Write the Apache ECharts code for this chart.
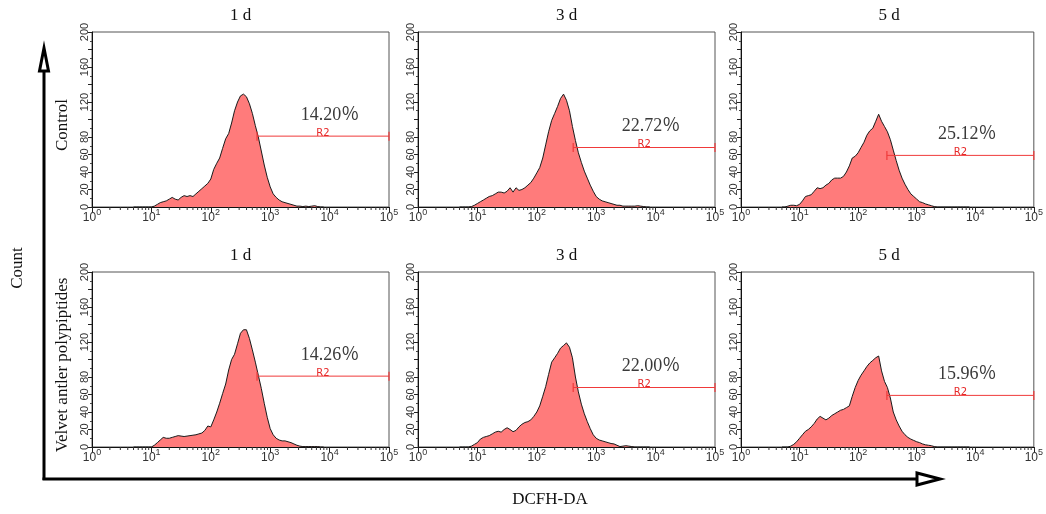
<!DOCTYPE html>
<html>
<head>
<meta charset="utf-8">
<title>DCFH-DA flow cytometry</title>
<script src="https://cdn.jsdelivr.net/npm/echarts@6/dist/echarts.min.js"></script>
<style>
  html, body { margin: 0; padding: 0; background: #fff; }
  #chart { width: 1046px; height: 514px; }
</style>
</head>
<body>
<div id="chart"></div>
<script>
// fluorescence channel (DCFH-DA), log-spaced
var channel = [
  5.01, 5.62, 6.31, 7.08, 7.94, 8.91,
  10, 11.2, 12.6, 14.1, 15.8, 17.8, 20, 22.4, 25.1, 28.2, 31.6, 35.5, 39.8, 44.7, 50.1, 56.2, 63.1, 70.8, 79.4, 89.1,
  100, 112, 126, 141, 158, 178, 200, 224, 251, 282, 316, 355, 398, 447, 501, 562, 631, 708, 794, 891,
  1000, 1122, 1259, 1413, 1585, 1778, 1995, 2239, 2512, 2818, 3162, 3548, 3981, 4467, 5012, 5623, 6310, 7079, 7943
];

// counts per panel
var control1d = [
  0, 0, 0, 0, 0, 0,
  0, 1, 3, 5, 6, 7, 9, 11, 9, 8, 11, 13, 12, 13, 12, 15, 18, 21, 24, 27,
  32, 43, 50, 56, 67, 78, 84, 96, 110, 120, 127, 129, 126, 118, 107, 93, 80, 64, 48, 34,
  23, 15, 11, 8, 6, 5, 4, 3, 2, 1, 1, 0.5, 1, 0.5, 1, 1.5, 0.5, 0, 0
];
var control3d = [
  0, 0, 0, 0, 0.5, 2,
  4, 6, 8, 10, 12, 13, 15, 17, 17, 16, 18, 22, 17, 22, 19, 20, 22, 25, 28, 33,
  39, 45, 56, 71, 86, 99, 107, 115, 124, 129, 122, 110, 92, 76, 62, 51, 41, 33, 25, 18,
  12, 9, 7, 6, 5, 4, 3, 2, 2, 1, 1, 1, 1, 1, 1.5, 1, 0.5, 0, 0
];
var control5d = [
  0, 0, 1, 2, 2, 1.5,
  3, 7, 12, 13, 14, 18, 22, 21, 22, 25, 27, 31, 33, 33, 33, 35, 40, 47, 56, 58,
  62, 68, 74, 82, 87, 90, 98, 106, 98, 92, 86, 77, 65, 53, 42, 33, 26, 20, 15, 12,
  9, 6, 5, 3.5, 2.5, 1.5, 0.5, 0, 0, 0, 0, 0, 0, 0, 0, 0, 0, 0, 0
];
var velvet1d = [
  0, 0, 0, 0, 0, 0,
  0, 2, 5, 8, 11, 10, 10, 11, 12, 13, 12.5, 12, 12.5, 13, 13.5, 14, 15, 16, 19, 24,
  23, 31, 40, 50, 61, 72, 88, 100, 106, 118, 130, 134, 134, 124, 111, 97, 82, 67, 50, 34,
  21, 14, 10, 8, 7, 7, 6, 5, 3.5, 2, 1, 0.5, 0.5, 0.5, 0.5, 0.5, 0.5, 0, 0
];
var velvet3d = [
  0, 0, 0, 0, 1, 3,
  5, 9, 11, 12, 13, 15, 17, 18, 17, 20, 22, 20, 17.5, 19, 23, 26, 28, 29, 31, 35,
  40, 47, 58, 69, 83, 97, 102, 107, 113, 116, 119, 114, 102, 80, 63, 49, 38, 29, 21, 14,
  10, 8, 7, 6, 5, 4, 3.5, 2, 0.5, 1, 1.5, 1, 0.5, 0, 0, 0, 0, 0, 0
];
var velvet5d = [
  0, 0, 0, 1, 3, 6,
  10, 14, 18, 20, 23, 27, 32, 35, 33, 31, 33, 36, 38, 40, 42, 43, 45, 47, 58, 68,
  76, 82, 87, 92, 96, 99, 102, 104, 87, 75, 68, 56, 40, 31, 24, 18, 14, 11, 9, 7.5,
  6, 5, 3.5, 2.5, 2, 1.5, 0.5, 0, 0, 0, 0, 0, 0, 0, 0, 0, 0, 0, 0
];

var panelCounts = [control1d, control3d, control5d, velvet1d, velvet3d, velvet5d];
var panelTitles = ['1 d', '3 d', '5 d', '1 d', '3 d', '5 d'];

// R2 gate: start channel, end channel, drawn at count level, and its percentage
var gateStart = [600, 410, 310, 600, 410, 310];
var gateEnd = 100000;
var gateLevel = [81, 68, 59, 81, 68, 59];
var gatePercent = ['14.20', '22.72', '25.12', '14.26', '22.00', '15.96'];

var yTicks = [0, 20, 40, 60, 80, 120, 160, 200];
var decades = [1, 10, 100, 1000, 10000];
var minorSteps = [2, 3, 4, 5, 6, 7, 8, 9];

var colLeft = [92, 418, 741];
var colWidth = [297, 297, 296];
var rowTop = [32, 272];
var plotHeight = 175;

var minorTickValues = [];
decades.forEach(function (d) {
  minorSteps.forEach(function (k) { minorTickValues.push([d * k, 0]); });
});

var chart = echarts.init(document.getElementById('chart'));

var grids = [], xAxes = [], yAxes = [], series = [], texts = [];

panelCounts.forEach(function (counts, i) {
  var col = i % 3, row = Math.floor(i / 3);
  grids.push({
    left: colLeft[col], top: rowTop[row], width: colWidth[col], height: plotHeight,
    show: true, borderColor: '#555', borderWidth: 1
  });
  xAxes.push({
    gridIndex: i, type: 'log', logBase: 10, min: 1, max: 100000,
    axisLine: { lineStyle: { color: '#111', width: 1 } },
    axisTick: { length: 5, lineStyle: { color: '#222' } },
    splitLine: { show: false },
    axisLabel: {
      margin: 1, color: '#333', fontFamily: 'Liberation Sans', fontSize: 12,
      formatter: function (v) { return '{b|10}{s|' + Math.round(Math.log10(v)) + '}'; },
      rich: {
        b: { fontSize: 12, color: '#333', fontFamily: 'Liberation Sans', padding: [4, 0, 0, 0] },
        s: { fontSize: 9, color: '#333', fontFamily: 'Liberation Sans', padding: [0, 0, 6, 0] }
      }
    }
  });
  yAxes.push({
    gridIndex: i, type: 'value', min: 0, max: 200, interval: 20,
    axisLine: { show: true, lineStyle: { color: '#111', width: 1 } },
    axisTick: { show: true, length: 4, lineStyle: { color: '#222' } },
    minorTick: { show: true, splitNumber: 2, length: 2, lineStyle: { color: '#444' } },
    splitLine: { show: false },
    axisLabel: {
      rotate: 90, margin: 2, fontSize: 11, color: '#333', fontFamily: 'Liberation Sans',
      formatter: function (v) { return yTicks.indexOf(v) >= 0 ? String(v) : ''; }
    }
  });
  series.push({
    type: 'line', xAxisIndex: i, yAxisIndex: i,
    data: channel.map(function (c, j) { return [c, counts[j]]; }),
    symbol: 'none', smooth: false,
    lineStyle: { color: '#1a1a1a', width: 1 },
    areaStyle: { color: '#ff7b7b', opacity: 1 },
    z: 2
  });
  series.push({
    type: 'custom', xAxisIndex: i, yAxisIndex: i, clip: false, silent: true,
    data: minorTickValues,
    renderItem: function (params, api) {
      var p = api.coord([api.value(0), 0]);
      return { type: 'line', shape: { x1: p[0], y1: p[1], x2: p[0], y2: p[1] + 3 },
        style: { stroke: '#333', lineWidth: 1 } };
    }
  });
  series.push({
    type: 'custom', xAxisIndex: i, yAxisIndex: i, clip: false, silent: true, z: 5,
    data: [[gateStart[i], gateLevel[i], gateEnd]],
    renderItem: function (params, api) {
      var a = api.coord([api.value(0), api.value(1)]);
      var b = api.coord([api.value(2), api.value(1)]);
      var mid = (a[0] + b[0]) / 2;
      var red = '#f03a3a';
      return {
        type: 'group',
        children: [
          { type: 'line', shape: { x1: a[0], y1: a[1], x2: b[0], y2: b[1] }, style: { stroke: red, lineWidth: 1 } },
          { type: 'line', shape: { x1: a[0], y1: a[1] - 4.5, x2: a[0], y2: a[1] + 4.5 }, style: { stroke: red, lineWidth: 1.2 } },
          { type: 'line', shape: { x1: b[0], y1: b[1] - 4.5, x2: b[0], y2: b[1] + 4.5 }, style: { stroke: red, lineWidth: 1.2 } },
          { type: 'text', x: mid, y: a[1] + 2, style: { text: 'R2', fill: '#e62828', font: '10px "DejaVu Sans"', textAlign: 'center', textVerticalAlign: 'bottom' } },
          { type: 'text', x: mid + 7, y: a[1] - 21, style: { text: gatePercent[i] + '\uff05', fill: '#3a3a3a', font: '18px "Liberation Serif", "Noto Sans CJK SC"', textAlign: 'center', textVerticalAlign: 'middle' } }
        ]
      };
    }
  });
  texts.push({
    type: 'text', x: colLeft[col] + colWidth[col] / 2, y: rowTop[row] - 16,
    style: { text: panelTitles[i], font: '17px "Liberation Serif"', fill: '#111', textAlign: 'center', textVerticalAlign: 'middle' }
  });
});

var serif = '17px "Liberation Serif"';
texts.push(
  { type: 'text', x: 18, y: 268, rotation: Math.PI / 2,
    style: { text: 'Count', font: serif, fill: '#111', textAlign: 'center', textVerticalAlign: 'middle' } },
  { type: 'text', x: 63, y: 125, rotation: Math.PI / 2,
    style: { text: 'Control', font: serif, fill: '#111', textAlign: 'center', textVerticalAlign: 'middle' } },
  { type: 'text', x: 63, y: 365, rotation: Math.PI / 2,
    style: { text: 'Velvet antler polypiptides', font: serif, fill: '#111', textAlign: 'center', textVerticalAlign: 'middle' } },
  { type: 'text', x: 550, y: 500,
    style: { text: 'DCFH-DA', font: serif, fill: '#111', textAlign: 'center', textVerticalAlign: 'middle' } },
  // big axis arrows
  { type: 'line', shape: { x1: 44, y1: 480, x2: 44, y2: 70 }, style: { stroke: '#000', lineWidth: 3 } },
  { type: 'polygon', shape: { points: [[44, 48], [39.5, 71], [48.5, 71]] }, style: { fill: '#fff', stroke: '#000', lineWidth: 3 } },
  { type: 'line', shape: { x1: 42.5, y1: 479, x2: 917, y2: 479 }, style: { stroke: '#000', lineWidth: 3 } },
  { type: 'polygon', shape: { points: [[940, 479], [917, 473], [917, 485]] }, style: { fill: '#fff', stroke: '#000', lineWidth: 3 } }
);

chart.setOption({
  animation: false,
  backgroundColor: '#fff',
  grid: grids,
  xAxis: xAxes,
  yAxis: yAxes,
  series: series,
  graphic: texts
});
</script>
</body>
</html>
